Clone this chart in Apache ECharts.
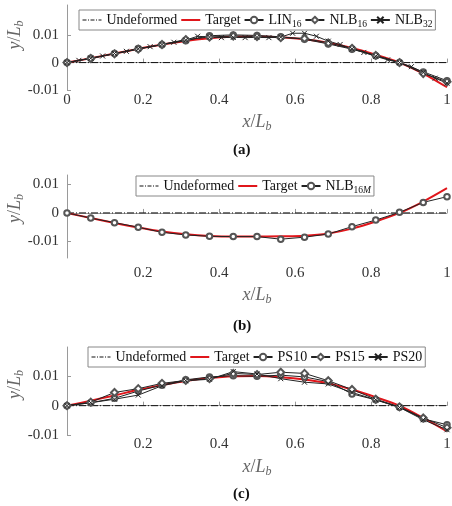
<!DOCTYPE html>
<html>
<head>
<meta charset="utf-8">
<script src="https://cdn.jsdelivr.net/npm/echarts@6/dist/echarts.min.js"></script>
<style>
  html, body { margin: 0; padding: 0; background: #fff; }
  #chart { width: 452px; height: 506px; }
</style>
</head>
<body>
<div id="chart"></div>
<script>
  // node positions along the beam
  const x16 = [0, 0.0625, 0.125, 0.1875, 0.25, 0.3125, 0.375, 0.4375, 0.5, 0.5625, 0.625, 0.6875, 0.75, 0.8125, 0.875, 0.9375, 1]
  const x32 = [0, 0.03125, 0.0625, 0.09375, 0.125, 0.15625, 0.1875, 0.21875, 0.25, 0.28125, 0.3125, 0.34375, 0.375, 0.40625, 0.4375, 0.46875, 0.5,
    0.53125, 0.5625, 0.59375, 0.625, 0.65625, 0.6875, 0.71875, 0.75, 0.78125, 0.8125, 0.84375, 0.875, 0.90625, 0.9375, 0.96875, 1]
  const undefX = [0, 1]
  const undefY = [0, 0]

  // (a)
  const targetA = [0, 0.0016, 0.0033, 0.0050, 0.0066, 0.0079, 0.0089, 0.0094, 0.0095, 0.0092, 0.0085, 0.0072, 0.0053, 0.0029, 0.0000, -0.0040, -0.0090]
  const lin16 = [0, 0.0016, 0.0033, 0.0051, 0.0065, 0.0080, 0.0098, 0.0101, 0.0099, 0.0094, 0.0085, 0.0068, 0.0049, 0.0025, 0.0000, -0.0034, -0.0066]
  const nlb16 = [0, 0.0015, 0.0032, 0.0049, 0.0066, 0.0084, 0.0093, 0.0097, 0.0095, 0.0091, 0.0088, 0.0072, 0.0052, 0.0026, 0.0000, -0.0040, -0.0070]
  const nlb32 = [0, 0.0008, 0.0016, 0.0024, 0.0033, 0.0041, 0.0050, 0.0058, 0.0066, 0.0074, 0.0082, 0.0096, 0.0093, 0.0091, 0.0092, 0.0091, 0.0092,
    0.0091, 0.0093, 0.0107, 0.0107, 0.0096, 0.0078, 0.0066, 0.0050, 0.0037, 0.0023, 0.0010, 0.0000, -0.0015, -0.0036, -0.0057, -0.0075]

  // (b)
  const targetB = [0, -0.0018, -0.0035, -0.0051, -0.0065, -0.0075, -0.0081, -0.0083, -0.0083, -0.0082, -0.0080, -0.0072, -0.0055, -0.0030, 0.0000, 0.0040, 0.0087]
  const nlb16M = [0, -0.0018, -0.0034, -0.0050, -0.0068, -0.0077, -0.0082, -0.0083, -0.0083, -0.0092, -0.0085, -0.0074, -0.0048, -0.0025, 0.0002, 0.0037, 0.0057]

  // (c)
  const targetC = [0, 0.0017, 0.0035, 0.0054, 0.0070, 0.0084, 0.0094, 0.0100, 0.0101, 0.0097, 0.0089, 0.0076, 0.0055, 0.0029, 0.0000, -0.0042, -0.0088]
  const ps10 = [0, 0.0010, 0.0025, 0.0050, 0.0070, 0.0088, 0.0098, 0.0102, 0.0100, 0.0104, 0.0098, 0.0082, 0.0040, 0.0020, -0.0005, -0.0045, -0.0065]
  const ps15 = [0, 0.0012, 0.0045, 0.0058, 0.0076, 0.0086, 0.0092, 0.0110, 0.0106, 0.0114, 0.0110, 0.0085, 0.0055, 0.0022, -0.0004, -0.0042, -0.0075]
  const ps20 = [0, 0.0010, 0.0022, 0.0036, 0.0068, 0.0085, 0.0090, 0.0116, 0.0108, 0.0092, 0.0080, 0.0074, 0.0045, 0.0020, -0.0006, -0.0048, -0.0082]

  const yTicks = [-0.01, 0, 0.01]
  const xTicksA = [0, 0.2, 0.4, 0.6, 0.8, 1]
  const xTicksBC = [0.2, 0.4, 0.6, 0.8, 1]

  const serif = 'Liberation Serif'
  const axisGray = '#9a9a9a'
  const ink = '#222'
  const markInk = '#555'
  const crossSym = 'path://M0,0L10,10M10,0L0,10'

  const zip = (xs, ys) => xs.map((x, i) => [x, ys[i]])

  function mkLine (name, xs, ys, gi, extra) {
    return Object.assign({
      name: name,
      type: 'line',
      xAxisIndex: gi,
      yAxisIndex: gi,
      data: zip(xs, ys),
      symbol: 'emptyCircle',
      symbolSize: 5.5,
      showAllSymbol: true,
      animation: false,
      z: 3,
      lineStyle: { color: ink, width: 1 },
      itemStyle: { color: markInk, borderWidth: 1 }
    }, extra || {})
  }
  function undeformed (gi) {
    return mkLine('Undeformed', undefX, undefY, gi, {
      showSymbol: false, symbol: 'none', z: 1,
      lineStyle: { color: '#111', width: 1, type: [7, 2, 1, 2] },
      itemStyle: { color: '#111' }
    })
  }
  function target (ys, gi) {
    return mkLine('Target', x16, ys, gi, {
      showSymbol: false, symbol: 'none', smooth: 0.3, z: 2,
      lineStyle: { color: '#e0161b', width: 2 },
      itemStyle: { color: '#e0161b' }
    })
  }
  const diamondOpt = { symbol: 'emptyDiamond', symbolSize: 7 }
  const crossOpt = {
    symbol: crossSym, symbolSize: 5,
    itemStyle: { color: 'none', borderColor: ink, borderWidth: 1 }
  }

  const subNames = {
    LIN16: '{t|LIN}{s|16}',
    NLB16: '{t|NLB}{s|16}',
    NLB32: '{t|NLB}{s|32}',
    NLB16M: '{t|NLB}{s|16}{m|M}'
  }
  // legend entries without a marker
  const plainItem = (name, dash) => ({
    name: name,
    itemStyle: { opacity: 0 },
    lineStyle: dash ? { type: [4, 1.5, 1, 1.5], width: 1 } : { width: 2 }
  })
  function legend (names, left, top) {
    return {
      data: [plainItem('Undeformed', true), plainItem('Target', false)].concat(names),
      left: left,
      top: top,
      orient: 'horizontal',
      itemWidth: 19,
      itemHeight: 8,
      itemGap: 3,
      padding: [1, 3, 1, 3],
      backgroundColor: '#fff',
      borderColor: '#888',
      borderWidth: 1,
      borderRadius: 0,
      selectedMode: false,
      formatter: n => subNames[n] || n,
      textStyle: {
        fontFamily: serif, fontSize: 14, color: '#111', lineHeight: 18,
        rich: {
          t: { fontFamily: serif, fontSize: 14, color: '#111', lineHeight: 18 },
          s: { fontFamily: serif, fontSize: 9.5, color: '#111', lineHeight: 12, verticalAlign: 'bottom' },
          m: { fontFamily: serif, fontSize: 9.5, fontStyle: 'italic', color: '#111', lineHeight: 12, verticalAlign: 'bottom' }
        }
      }
    }
  }

  const grids = [
    { left: 67, width: 380, top: 5, height: 85, outerBoundsMode: 'none', containLabel: false },
    { left: 67, width: 380, top: 175, height: 83, outerBoundsMode: 'none', containLabel: false },
    { left: 67, width: 380, top: 347, height: 88, outerBoundsMode: 'none', containLabel: false }
  ]
  const yRanges = [[-0.01, 0.021], [-0.0158, 0.0133], [-0.01, 0.02]]
  const xLabelMargins = [3, 8, 2]
  const xNameGaps = [21, 26, 21]
  const yNameShift = [25, 16, 13]

  const titleRich = {
    i: { fontFamily: serif, fontStyle: 'italic', fontSize: 18, color: '#666' },
    r: { fontFamily: serif, fontSize: 18, color: '#666' },
    b: { fontFamily: serif, fontStyle: 'italic', fontSize: 12, color: '#666', verticalAlign: 'bottom', lineHeight: 14 }
  }

  const xAxis = grids.map((g, i) => ({
    type: 'value',
    gridIndex: i,
    min: 0,
    max: 1,
    name: '{i|x}{r|/}{i|L}{b|b}',
    nameLocation: 'middle',
    nameGap: xNameGaps[i],
    nameMoveOverlap: false,
    nameTextStyle: { rich: titleRich, lineHeight: 22 },
    axisLine: { show: true, lineStyle: { color: axisGray, width: 1 } },
    axisTick: { show: true, inside: true, length: 4, lineStyle: { color: axisGray }, customValues: i === 0 ? xTicksA : xTicksBC },
    axisLabel: {
      customValues: i === 0 ? xTicksA : xTicksBC,
      margin: xLabelMargins[i],
      fontFamily: serif, fontSize: 15, color: '#333',
      formatter: v => v === 0 ? '0' : String(+v.toFixed(1))
    },
    splitLine: { show: false }
  }))

  const yAxis = grids.map((g, i) => ({
    type: 'value',
    gridIndex: i,
    min: yRanges[i][0],
    max: yRanges[i][1],
    name: '{i|y}{r|/}{i|L}{b|b}',
    nameLocation: 'middle',
    nameRotate: 90,
    nameGap: 41,
    nameMoveOverlap: false,
    nameTextStyle: { rich: titleRich, lineHeight: 22, padding: [0, 0, 0, yNameShift[i]] },
    axisLine: { show: true, lineStyle: { color: axisGray, width: 1 } },
    axisTick: { show: true, inside: true, length: 4, lineStyle: { color: axisGray }, customValues: yTicks },
    axisLabel: {
      customValues: yTicks,
      margin: 8,
      fontFamily: serif, fontSize: 15, color: '#333',
      formatter: v => v === 0 ? '0' : v.toFixed(2)
    },
    splitLine: { show: false }
  }))

  const panelLabel = (txt, cy) => ({
    type: 'text',
    left: 233,
    top: cy - 9,
    style: {
      text: txt,
      font: 'bold 15px "Liberation Serif"',
      fill: '#111'
    }
  })

  const chart = echarts.init(document.getElementById('chart'), null, { renderer: 'canvas' })
  chart.setOption({
    backgroundColor: '#fff',
    animation: false,
    grid: grids,
    xAxis: xAxis,
    yAxis: yAxis,
    legend: [
      legend(['LIN16', 'NLB16', 'NLB32'], 79, 10),
      legend(['NLB16M'], 136, 176),
      legend(['PS10', 'PS15', 'PS20'], 88, 347)
    ],
    graphic: [
      panelLabel('(a)', 152), panelLabel('(b)', 328), panelLabel('(c)', 496)
    ],
    series: [
      undeformed(0),
      target(targetA, 0),
      mkLine('LIN16', x16, lin16, 0),
      mkLine('NLB16', x16, nlb16, 0, diamondOpt),
      mkLine('NLB32', x32, nlb32, 0, crossOpt),

      undeformed(1),
      target(targetB, 1),
      mkLine('NLB16M', x16, nlb16M, 1),

      undeformed(2),
      target(targetC, 2),
      mkLine('PS10', x16, ps10, 2),
      mkLine('PS15', x16, ps15, 2, diamondOpt),
      mkLine('PS20', x16, ps20, 2, crossOpt)
    ]
  })
</script>
</body>
</html>
